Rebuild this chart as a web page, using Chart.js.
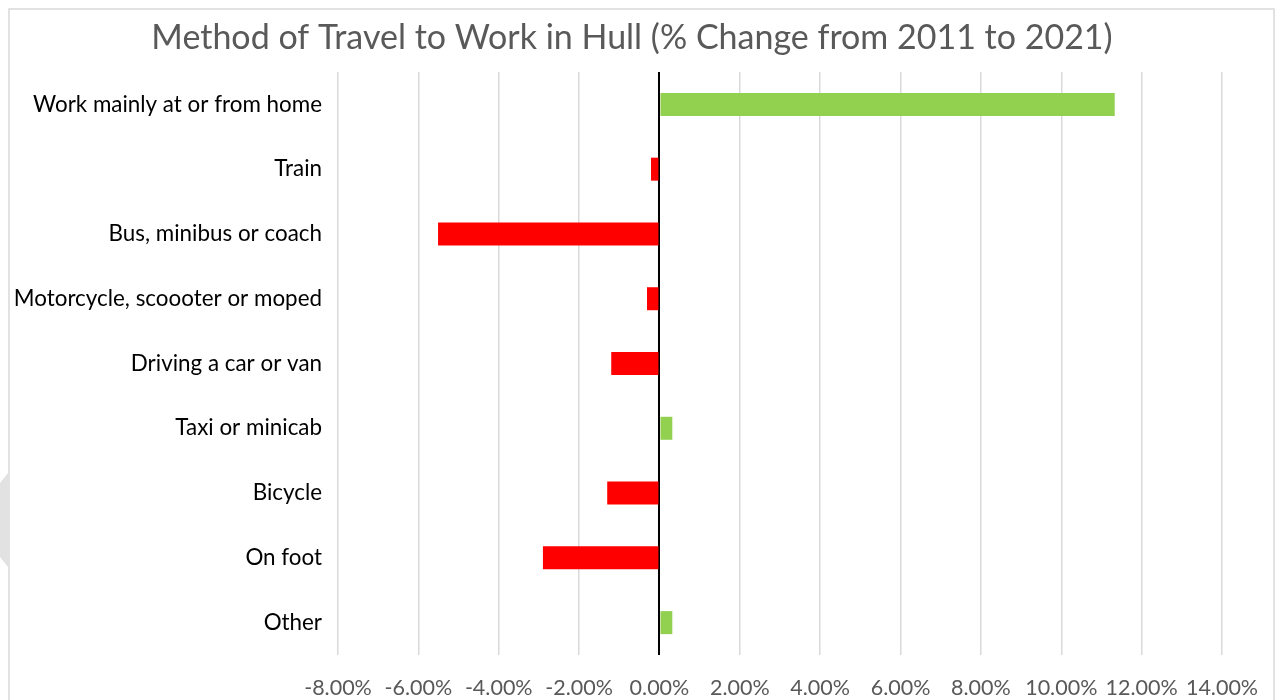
<!DOCTYPE html>
<html>
<head>
<meta charset="utf-8">
<script src="https://cdn.jsdelivr.net/npm/chart.js@4"></script>
<style>
  html, body { margin: 0; padding: 0; background: #fff; }
  #wrap { width: 1282px; height: 700px; }
</style>
</head>
<body>
<div id="wrap"><canvas id="chart1" width="1282" height="700"></canvas></div>
<script>
// data
const categories = [
  'Work mainly at or from home',
  'Train',
  'Bus, minibus or coach',
  'Motorcycle, scoooter or moped',
  'Driving a car or van',
  'Taxi or minicab',
  'Bicycle',
  'On foot',
  'Other',
];
const changes = [11.33, -0.21, -5.51, -0.31, -1.2, 0.32, -1.3, -2.9, 0.32];
const tickValues = [-8, -6, -4, -2, 0, 2, 4, 6, 8, 10, 12, 14];
const titleText = 'Method of Travel to Work in Hull (% Change from 2011 to 2021)';

const font = 'Lato, "Open Sans", sans-serif';

// frame, grey bit on the left edge, and the title (centred on the frame, not the plot)
const framePlugin = {
  id: 'frame',
  beforeDraw(chart) {
    const c = chart.ctx;
    c.save();
    c.fillStyle = '#fff';
    c.fillRect(0, 0, chart.width, chart.height);
    c.fillStyle = '#e2e2e2';
    c.beginPath();
    c.moveTo(8, 473);
    c.lineTo(0, 483);
    c.lineTo(0, 557);
    c.lineTo(8, 567);
    c.closePath();
    c.fill();
    c.strokeStyle = '#d9d9d9';
    c.lineWidth = 1.5;
    c.strokeRect(9, 9, 1265, 720);
    c.restore();
  },
  afterDraw(chart) {
    const c = chart.ctx;
    c.save();
    c.fillStyle = '#595959';
    c.font = '34px ' + font;
    c.textAlign = 'center';
    c.textBaseline = 'middle';
    c.fillText(titleText, 632, 38);
    c.restore();
  },
};

var ctx = document.getElementById('chart1').getContext('2d');
new Chart(ctx, {
  type: 'bar',
  data: {
    labels: categories,
    datasets: [{
      data: changes,
      backgroundColor: changes.map(v => (v >= 0 ? '#92d050' : '#ff0000')),
      borderWidth: 0,
      barPercentage: 0.355,
      categoryPercentage: 1,
    }],
  },
  options: {
    indexAxis: 'y',
    responsive: false,
    animation: false,
    layout: { padding: { left: 0, right: 60, top: 72, bottom: 0 } },
    plugins: {
      legend: { display: false },
      tooltip: { enabled: false },
      title: { display: false },
    },
    scales: {
      x: {
        min: -8,
        max: 14,
        afterBuildTicks: (scale) => {
          scale.ticks = tickValues.map(v => ({ value: v }));
        },
        afterFit: (scale) => { scale.height = 45; },
        grid: {
          color: (c) => (c.tick && c.tick.value === 0 ? '#000000' : '#d9d9d9'),
          lineWidth: (c) => (c.tick && c.tick.value === 0 ? 2 : 1.5),
          drawTicks: false,
        },
        border: { display: false },
        ticks: {
          color: '#595959',
          padding: 20,
          font: { family: font, size: 21.5 },
          callback: (v) => v.toFixed(2) + '%',
        },
      },
      y: {
        afterFit: (scale) => { scale.width = 338; },
        grid: { display: false, drawTicks: false },
        border: { display: false },
        ticks: {
          color: '#000000',
          padding: 16,
          font: { family: font, size: 22.4 },
        },
      },
    },
  },
  plugins: [framePlugin],
});
</script>
</body>
</html>
